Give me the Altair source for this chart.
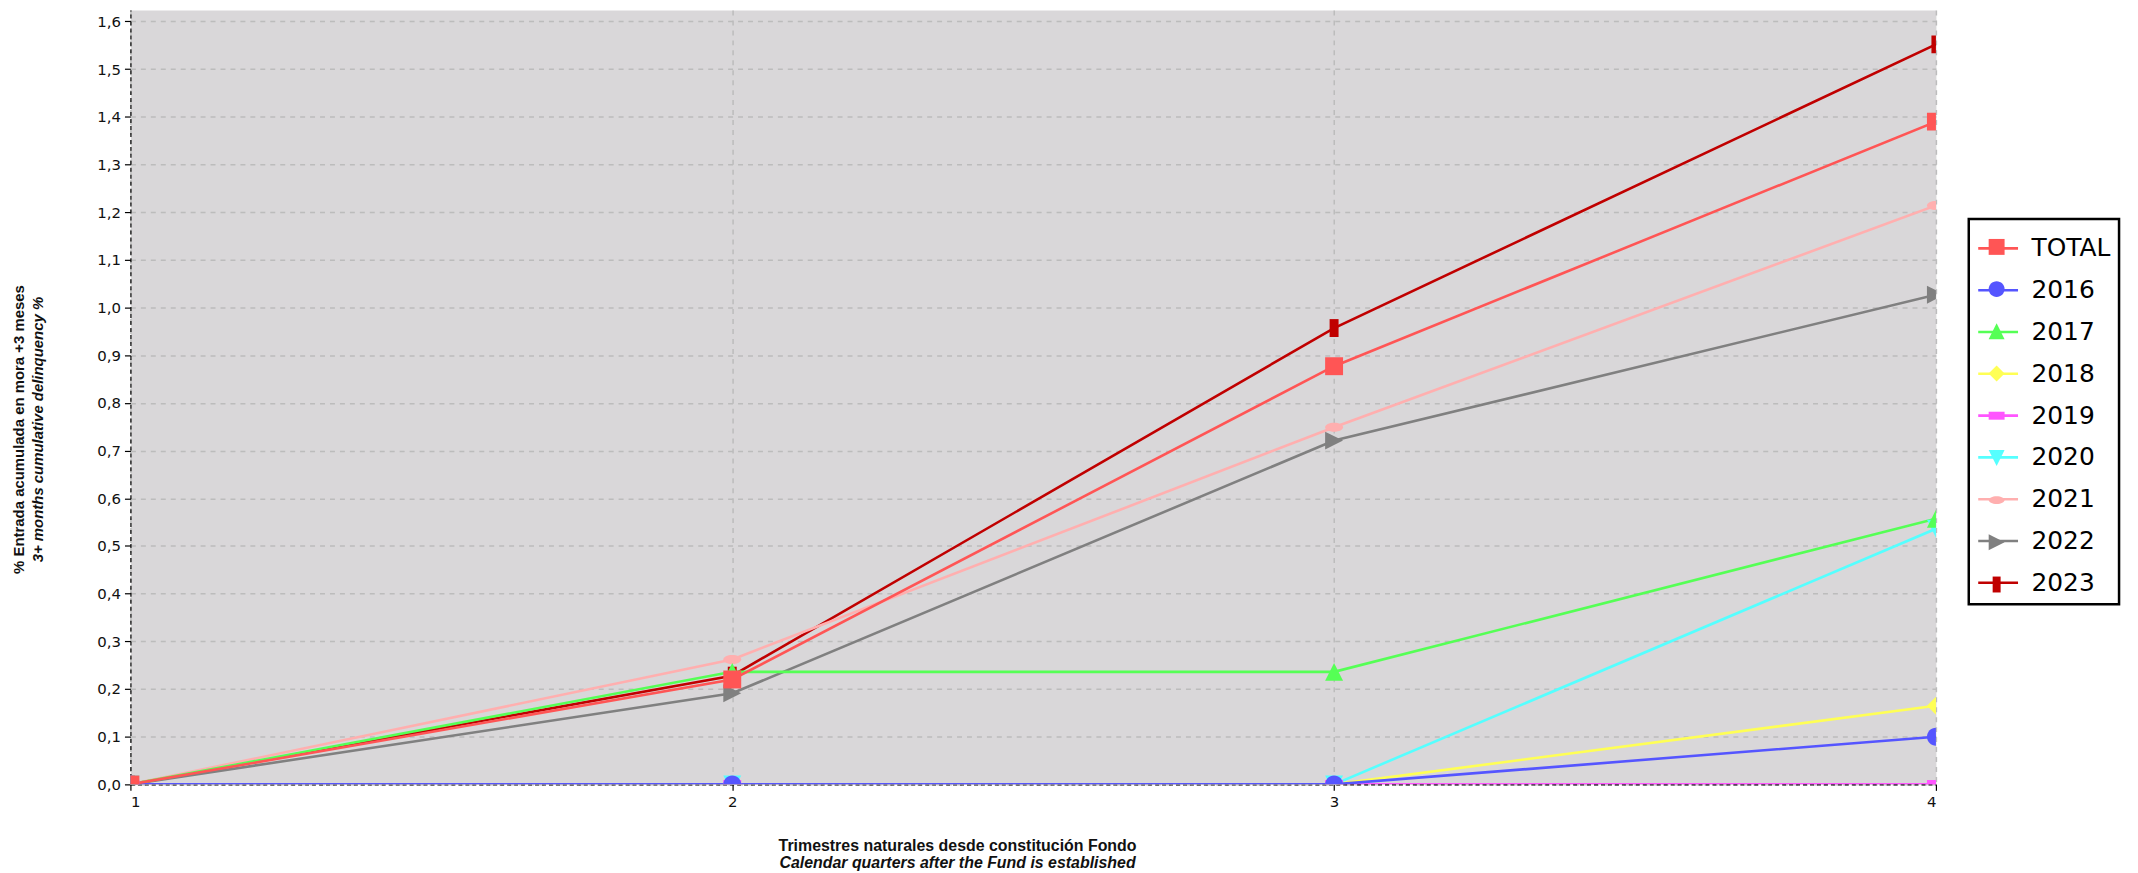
import altair as alt
import pandas as pd

# ---------------- data ----------------
series = ["TOTAL", "2016", "2017", "2018", "2019", "2020", "2021", "2022", "2023"]
colors = ["#ff5555", "#5555ff", "#55ff55", "#ffff55", "#ff55ff",
          "#55ffff", "#ffafaf", "#808080", "#c00000"]
quarters = [1, 2, 3, 4]

v_total = [0.0, 0.220, 0.877, 1.390]
v_2016 = [0.0, 0.0, 0.0, 0.100]
v_2017 = [0.0, 0.236, 0.236, 0.557]
v_2018 = [0.0, 0.0, 0.0, 0.165]
v_2019 = [0.0, 0.0, 0.0, 0.0]
v_2020 = [0.0, 0.0, 0.0, 0.536]
v_2021 = [0.0, 0.262, 0.749, 1.214]
v_2022 = [0.0, 0.191, 0.721, 1.027]
v_2023 = [0.0, 0.228, 0.957, 1.552]

y_ticks = [0.0, 0.1, 0.2, 0.3, 0.4, 0.5, 0.6, 0.7, 0.8, 0.9, 1.0,
           1.1, 1.2, 1.3, 1.4, 1.5, 1.6]

y_title_1 = "% Entrada acumulada en mora +3 meses"
y_title_2 = "3+ months cumulative delinquency %"
x_title_1 = "Trimestres naturales desde constitución Fondo"
x_title_2 = "Calendar quarters after the Fund is established"

all_values = [v_total, v_2016, v_2017, v_2018, v_2019, v_2020, v_2021, v_2022, v_2023]

rows = []
# reverse order so that TOTAL is drawn last (on top)
for s, vals in reversed(list(zip(series, all_values))):
    for q, v in zip(quarters, vals):
        rows.append({"serie": s, "q": q, "v": v})
df = pd.DataFrame(rows)

# ---------------- marker shapes ----------------
def poly(pts, k=1.0):
    return "M" + "L".join(f"{x*k:.3f},{y*k:.3f}" for x, y in pts) + "Z"

def ell(a, b, k=1.0):
    a, b = a * k, b * k
    return (f"M{-a:.3f},0A{a:.3f},{b:.3f},0,1,0,{a:.3f},0"
            f"A{a:.3f},{b:.3f},0,1,0,{-a:.3f},0Z")

shape_defs = [
    ("p", [(-1, -1), (1, -1), (1, 1), (-1, 1)]),      # square
    ("e", (1, 1)),                                      # circle
    ("p", [(0, -1), (1, 1), (-1, 1)]),                 # triangle up
    ("p", [(0, -1), (1, 0), (0, 1), (-1, 0)]),         # diamond
    ("p", [(-1, -0.5), (1, -0.5), (1, 0.5), (-1, 0.5)]),  # horizontal rect
    ("p", [(0, 1), (1, -1), (-1, -1)]),                # triangle down
    ("e", (1, 0.5)),                                    # horizontal ellipse
    ("p", [(1, 0), (-1, 1), (-1, -1)]),                # triangle right
    ("p", [(-0.5, -1), (0.5, -1), (0.5, 1), (-0.5, 1)]),  # vertical rect
]

def make_path(d, k):
    kind, spec = d
    return poly(spec, k) if kind == "p" else ell(spec[0], spec[1], k)

marker_paths = [make_path(d, 1.0) for d in shape_defs]
legend_marker_paths = [make_path(d, 0.4) for d in shape_defs]

# ---------------- styling ----------------
tick_font = "DejaVu Sans"
title_font = "Liberation Sans"
x_title_size = 16
y_title_size = 15
y_dom = [0, 1.624]
label_expr = "replace(format(datum.value, '.1f'), '.', ',')"

x_axis = alt.Axis(
    values=quarters, format="d", title=None,
    grid=True, gridDash=[5, 5], gridColor="#bcbcbc", gridWidth=1.5,
    domainColor="#000000", domainDash=[4, 3], domainWidth=1.2,
    tickColor="#000000", tickSize=6, tickWidth=1.2,
    labelFont=tick_font, labelFontSize=15, labelColor="#111111", labelPadding=4,
)
x_enc = alt.X("q:Q", scale=alt.Scale(domain=[1, 4], nice=False, zero=False), axis=x_axis)

y_axis_main = alt.Axis(
    orient="left",
    values=y_ticks, labelExpr=label_expr,
    grid=True, gridDash=[5, 5], gridColor="#bcbcbc", gridWidth=1.5,
    domainColor="#000000", domainDash=[4, 3], domainWidth=1.2,
    tickColor="#000000", tickSize=6, tickWidth=1.2,
    labelFont=tick_font, labelFontSize=15, labelColor="#111111", labelPadding=4,
    title=y_title_1, titleFont=title_font, titleFontSize=y_title_size, titleFontWeight="bold",
    titleColor="#111111", titleAngle=270, titleX=-112, titleY=421,
    titleAlign="center", titleBaseline="middle",
)
y_scale = alt.Scale(domain=y_dom, nice=False, zero=True)

color_scale = alt.Scale(domain=series, range=colors)

lines = alt.Chart(df).mark_line(strokeWidth=2.6, clip=True).encode(
    x=x_enc,
    y=alt.Y("v:Q", scale=y_scale, axis=y_axis_main),
    color=alt.Color("serie:N", scale=color_scale, legend=None),
    detail="serie:N",
)

points = alt.Chart(df).mark_point(filled=True, opacity=1, size=324, clip=True).encode(
    x=x_enc,
    y=alt.Y("v:Q", scale=y_scale, axis=y_axis_main),
    color=alt.Color("serie:N", scale=color_scale, legend=None),
    shape=alt.Shape("serie:N", scale=alt.Scale(domain=series, range=marker_paths), legend=None),
)

inner = alt.layer(lines, points)

LEG_X, LEG_Y = 1847, 210
common_leg = dict(
    title=None, orient="none", legendX=LEG_X, legendY=LEG_Y, padding=8,
    labelOffset=12, symbolSize=1600,
    labelFont=tick_font, labelFontSize=25, labelBaseline="middle",
)

# legend underneath: box, labels and the line segment of each entry
legend_lines = alt.Legend(
    fillColor="#ffffff", strokeColor="#000000", rowPadding=7,
    symbolType="M-1,0H1", symbolStrokeWidth=2.6, symbolFillColor="transparent",
    symbolOpacity=1, labelColor="#000000", zindex=1,
    **common_leg,
)
# legend on top: markers only (invisible labels keep identical layout)
legend_marks = alt.Legend(
    fillColor="transparent", strokeColor="transparent", rowPadding=9.4,
    symbolStrokeWidth=0, symbolOpacity=1, labelOpacity=0, zindex=2,
    **common_leg,
)

legend_layer = alt.Chart(df).transform_filter("false").mark_point(
    filled=True, size=1600, clip=True
).encode(
    x=x_enc,
    y=alt.Y("v:Q", scale=alt.Scale(domain=y_dom, nice=False, zero=True),
            axis=alt.Axis(orient="left", title=y_title_2, labels=False, ticks=False,
                          domain=False, grid=False, titleFont=title_font,
                          titleFontSize=y_title_size,
                          titleFontWeight="bold", titleFontStyle="italic",
                          titleColor="#111111", titleAngle=270, titleX=-93,
                          titleY=421, titleAlign="center", titleBaseline="middle")),
    color=alt.Color("serie:N", scale=alt.Scale(domain=series, range=colors), legend=legend_marks),
    shape=alt.Shape("serie:N", scale=alt.Scale(domain=series, range=legend_marker_paths),
                    legend=legend_marks),
    stroke=alt.Stroke("serie:N", scale=alt.Scale(domain=series, range=colors), legend=legend_lines),
)

chart = alt.layer(inner, legend_layer).resolve_scale(
    y="independent", color="independent", shape="independent"
).properties(
    width=1814, height=778,
    autosize=alt.AutoSizeParams(type="none"),
    padding={"left": 123, "top": 0, "right": 195, "bottom": 85},
    background="#ffffff",
    title=alt.TitleParams(
        text=x_title_1, subtitle=x_title_2, orient="bottom", anchor="middle",
        dx=-76, offset=29,
        font=title_font, fontSize=x_title_size, fontWeight="bold", color="#111111",
        subtitleFont=title_font, subtitleFontSize=x_title_size, subtitleFontWeight="bold",
        subtitleFontStyle="italic", subtitleColor="#111111", subtitlePadding=1.5,
    ),
).configure_view(fill="#d9d7d9", stroke="transparent").configure_legend(strokeWidth=2.5)

chart.save("out.html", embed_options={"renderer": "svg", "actions": False})
